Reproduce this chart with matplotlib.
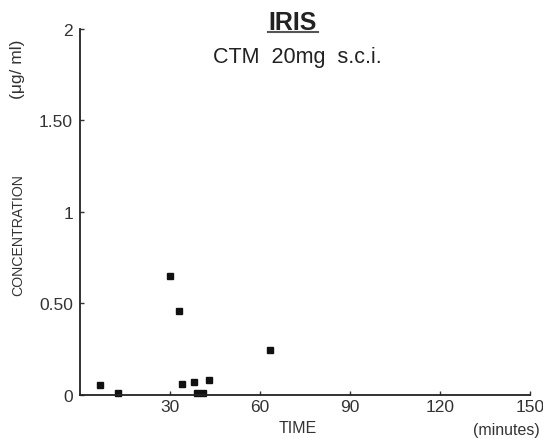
import matplotlib
matplotlib.use("Agg")
import matplotlib.pyplot as plt
from matplotlib.lines import Line2D

# ── Data ─────────────────────────────────────────────────────────────────────
time_min = [6.7, 12.7, 30.0, 33.1, 34.0, 38.0, 39.1, 41.0, 43.0, 63.4]
conc = [0.055, 0.012, 0.65, 0.46, 0.062, 0.072, 0.012, 0.012, 0.083, 0.245]

x_ticks = [30, 60, 90, 120, 150]
y_ticks = [0, 0.5, 1, 1.5, 2]
y_tick_labels = ["0", "0.50", "1", "1.50", "2"]

INK = "#222222"
SOFT = "#333333"
plt.rcParams["font.family"] = ["Liberation Sans", "DejaVu Sans"]

fig = plt.figure(figsize=(5.43, 4.39), dpi=100)
fig.patch.set_facecolor("white")
ax = fig.add_axes([0.147, 0.098, 0.829, 0.834])

ax.plot(time_min, conc, linestyle="none", marker="s", markersize=4,
        color="#111111", clip_on=False)

ax.set_xlim(0, 150)
ax.set_ylim(0, 2)
ax.set_xticks(x_ticks)
ax.set_yticks(y_ticks)
ax.set_yticklabels(y_tick_labels)

ax.spines[["top", "right"]].set_visible(False)
for s in ["left", "bottom"]:
    ax.spines[s].set_color(INK)
    ax.spines[s].set_linewidth(1.3)
ax.tick_params(direction="in", length=3, width=1, colors=SOFT,
               labelsize=12.5, pad=3)
ax.tick_params(axis="y", pad=5)

# titles
fig.text(0.539, 0.948, "IRIS", ha="center", va="center", fontsize=18,
         fontweight="bold", color=INK)
fig.add_artist(Line2D([0.494, 0.586], [0.925, 0.925], color="#555555", lw=1.5))
fig.text(0.547, 0.870, "CTM  20mg  s.c.i.", ha="center", va="center",
         fontsize=15.5, color=INK)

# axis labels
fig.text(0.033, 0.465, "CONCENTRATION", rotation=90, ha="center",
         va="center", fontsize=10.2, color=SOFT)
fig.text(0.033, 0.843, "(μg/ ml)", rotation=90, ha="center", va="center",
         fontsize=12.5, color=SOFT)
fig.text(0.549, 0.025, "TIME", ha="center", va="center", fontsize=11.5,
         color=SOFT)
fig.text(0.932, 0.02, "(minutes)", ha="center", va="center", fontsize=11.5,
         color=SOFT)

plt.savefig("out.png", dpi=100)
